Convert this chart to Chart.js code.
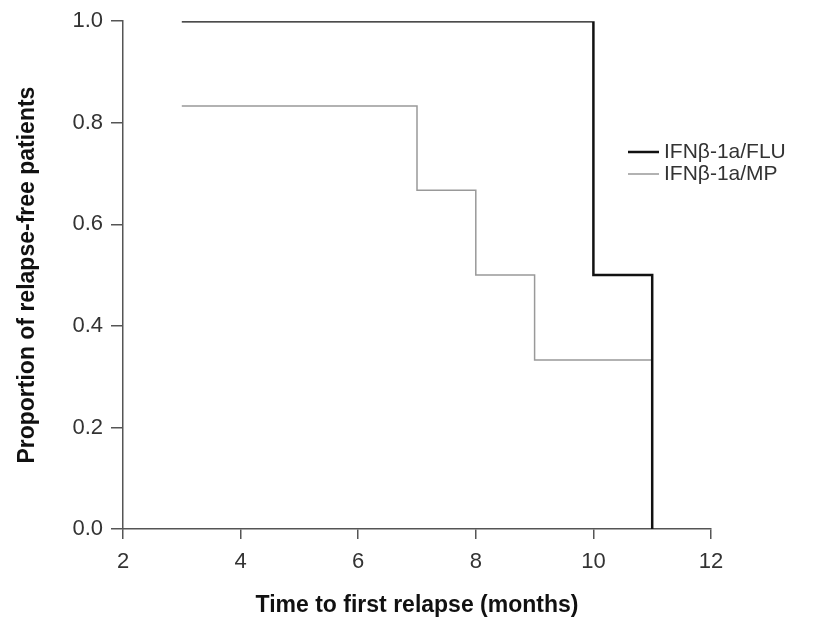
<!DOCTYPE html>
<html>
<head>
<meta charset="utf-8">
<script src="https://cdn.jsdelivr.net/npm/chart.js@4"></script>
<style>
  html, body { margin: 0; padding: 0; background: #fff; }
  #wrap { width: 819px; height: 619px; position: relative; }
</style>
</head>
<body>
<div id="wrap"><canvas id="km"></canvas></div>
<script>
// Kaplan-Meier 数据
const fluTimes = [3, 10, 10, 11, 11];
const fluProps = [1.0, 1.0, 0.5, 0.5, 0.0];
const mpTimes = [3, 7, 7, 8, 8, 9, 9, 11, 11];
const mpProps = [0.833, 0.833, 0.667, 0.667, 0.5, 0.5, 0.333, 0.333, 0.0];
const seriesNames = ['IFNβ-1a/FLU', 'IFNβ-1a/MP'];
const xTicks = [2, 4, 6, 8, 10, 12];
const yTicks = [0.0, 0.2, 0.4, 0.6, 0.8, 1.0];

const toPoints = (xs, ys) => xs.map((x, i) => ({ x: x, y: ys[i] }));
const fontFam = '"Liberation Sans", Arial, sans-serif';

// 图例画在图内右侧
const legendPlugin = {
  id: 'sideLegend',
  afterDraw(chart) {
    const ctx = chart.ctx;
    const items = [
      { label: seriesNames[0], color: '#111', width: 2.5, y: 152 },
      { label: seriesNames[1], color: '#999', width: 1.5, y: 174 }
    ];
    ctx.save();
    ctx.font = '21px ' + fontFam;
    ctx.textBaseline = 'middle';
    items.forEach(it => {
      ctx.strokeStyle = it.color;
      ctx.lineWidth = it.width;
      ctx.beginPath();
      ctx.moveTo(628, it.y);
      ctx.lineTo(659, it.y);
      ctx.stroke();
      ctx.fillStyle = '#333';
      ctx.fillText(it.label, 664, it.y);
    });
    ctx.restore();
  }
};

const ctx = document.getElementById('km').getContext('2d');
new Chart(ctx, {
  type: 'line',
  data: {
    datasets: [
      {
        label: seriesNames[0],
        data: toPoints(fluTimes, fluProps),
        borderColor: '#111',
        borderWidth: 2.5,
        pointRadius: 0,
        tension: 0,
        order: 1
      },
      {
        label: seriesNames[1],
        data: toPoints(mpTimes, mpProps),
        borderColor: '#999',
        borderWidth: 1.5,
        pointRadius: 0,
        tension: 0,
        order: 2
      }
    ]
  },
  options: {
    responsive: true,
    maintainAspectRatio: false,
    animation: false,
    layout: { padding: { left: 0, top: 21, right: 108, bottom: 0 } },
    plugins: {
      legend: { display: false },
      tooltip: { enabled: false }
    },
    scales: {
      x: {
        type: 'linear',
        min: 2,
        max: 12,
        afterBuildTicks: s => { s.ticks = xTicks.map(v => ({ value: v })); },
        afterFit: s => { s.height = 90; },
        border: { color: '#555', width: 1.5 },
        grid: { drawOnChartArea: false, color: '#555', lineWidth: 1.5, tickLength: 10 },
        ticks: { color: '#333', font: { family: fontFam, size: 22 }, padding: 10 },
        title: {
          display: true,
          text: 'Time to first relapse (months)',
          color: '#111',
          font: { family: fontFam, size: 23, weight: 'bold' },
          padding: { top: 4, bottom: 0 }
        }
      },
      y: {
        min: 0,
        max: 1,
        afterBuildTicks: s => { s.ticks = yTicks.map(v => ({ value: v })); },
        afterFit: s => { s.width = 123; },
        border: { color: '#555', width: 1.5 },
        grid: { drawOnChartArea: false, color: '#555', lineWidth: 1.5, tickLength: 12 },
        ticks: {
          color: '#333',
          font: { family: fontFam, size: 22 },
          padding: 8,
          callback: v => v.toFixed(1)
        },
        title: {
          display: true,
          text: 'Proportion of relapse-free patients',
          color: '#111',
          font: { family: fontFam, size: 23, weight: 'bold' },
          padding: { top: 14, bottom: 0 }
        }
      }
    }
  },
  plugins: [legendPlugin]
});
</script>
</body>
</html>
